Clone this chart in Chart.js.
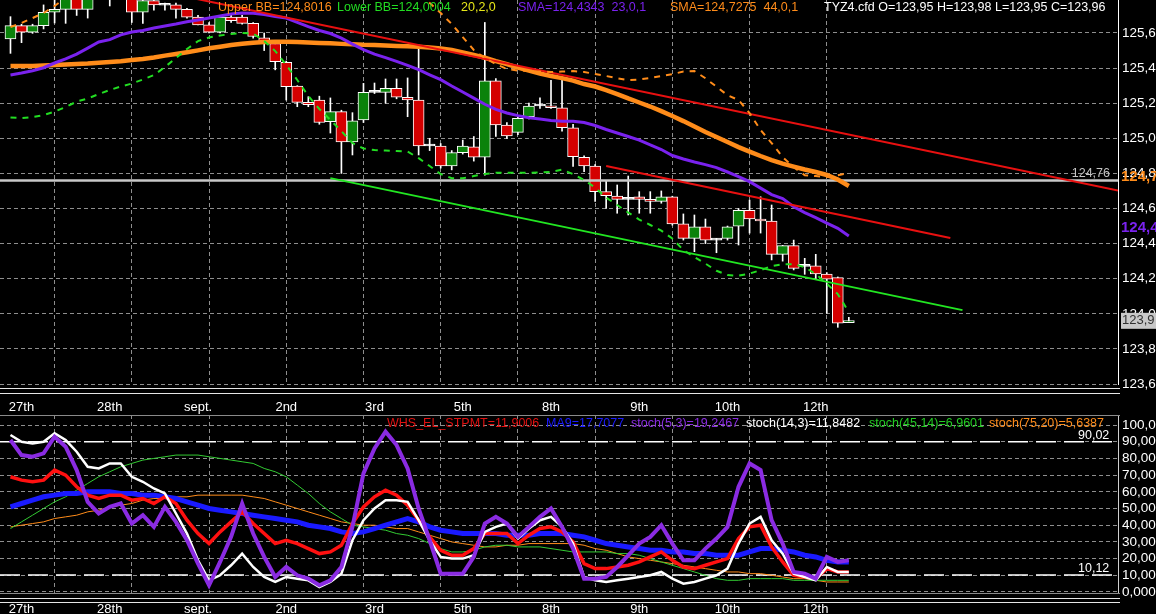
<!DOCTYPE html>
<html>
<head>
<meta charset="utf-8">
<script src="https://cdn.jsdelivr.net/npm/chart.js@4.4.1/dist/chart.umd.min.js"></script>
<style>
html, body { margin: 0; padding: 0; background: #000; overflow: hidden; }
#wrap { position: relative; width: 1156px; height: 614px; overflow: hidden; background: #000; }
canvas { position: absolute; left: 0; }
#main { top: 0; }
#osc { top: 392px; }
.t { position: absolute; font: 12.5px "Liberation Sans", Arial, sans-serif; line-height: 14px; white-space: nowrap; }
.hl { position: absolute; left: 0; width: 1120px; height: 1px; background: #e6e6e6; }
</style>
</head>
<body>
<div id="wrap">
  <canvas id="main" width="1156" height="392"></canvas>
  <canvas id="osc" width="1156" height="232"></canvas>

  <div class="hl" style="top:388px"></div>
  <div class="hl" style="top:393px"></div>
  <div class="hl" style="top:415px;background:#8a8a8a"></div>
  <div class="hl" style="top:593px;background:#8a8a8a"></div>
  <div class="hl" style="top:598px"></div>
  <div class="hl" style="top:602px"></div>

  <span class="t" style="left:218px;top:0;color:#ff8c1a">Upper BB=124,8016</span>
  <span class="t" style="left:337px;top:0;color:#22dd22">Lower BB=124,0004</span>
  <span class="t" style="left:461px;top:0;color:#e6e619">20,2,0</span>
  <span class="t" style="left:518px;top:0;color:#7a22ee">SMA=124,4343&nbsp; 23,0,1</span>
  <span class="t" style="left:670px;top:0;color:#ff8c1a">SMA=124,7275&nbsp; 44,0,1</span>
  <span class="t" style="left:824px;top:0;color:#fff">TYZ4.cfd O=123,95 H=123,98 L=123,95 C=123,96</span>

  <span class="t" style="left:387px;top:416px;color:#e01010">WHS_EL_STPMT=11,9006</span>
  <span class="t" style="left:546px;top:416px;color:#1a1aff">MA9=17,7077</span>
  <span class="t" style="left:631px;top:416px;color:#8a2be2">stoch(5,3)=19,2467</span>
  <span class="t" style="left:746px;top:416px;color:#fff">stoch(14,3)=11,8482</span>
  <span class="t" style="left:869px;top:416px;color:#22cc22">stoch(45,14)=6,9601</span>
  <span class="t" style="left:989px;top:416px;color:#ff8c1a">stoch(75,20)=5,6387</span>
  <span class="t" style="left:1078px;top:428px;color:#fff">90,02</span>
  <span class="t" style="left:1078px;top:561px;color:#fff">10,12</span>
</div>

<script>
// --- price data (one candle per bar, index 0..76) ---
const opens = [125.566,125.642,125.604,125.642,125.718,125.735,125.800,125.735,125.820,125.830,
  125.850,125.810,125.718,125.784,125.760,125.760,125.735,125.690,125.646,125.604,
  125.690,125.690,125.655,125.573,125.540,125.433,125.298,125.205,125.218,125.095,
  125.152,124.980,125.104,125.262,125.262,125.285,125.234,125.218,124.956,124.956,
  124.842,124.918,124.952,124.892,125.327,125.076,125.034,125.123,125.184,125.184,
  125.174,125.060,124.892,124.842,124.696,124.671,124.652,124.667,124.652,124.641,
  124.667,124.512,124.430,124.496,124.420,124.430,124.500,124.590,124.540,124.529,
  124.339,124.388,124.274,124.274,124.227,124.206,123.950];
const highs = [125.693,125.650,125.650,125.760,125.820,125.850,125.840,125.830,125.880,125.860,
  125.900,125.840,125.800,125.800,125.770,125.770,125.740,125.700,125.660,125.700,
  125.700,125.700,125.660,125.600,125.550,125.440,125.300,125.237,125.240,125.230,
  125.160,125.146,125.313,125.315,125.338,125.338,125.344,125.532,125.000,124.970,
  124.930,124.990,125.010,125.660,125.340,125.090,125.120,125.200,125.230,125.330,
  125.340,125.080,124.900,124.850,124.760,124.734,124.785,124.696,124.696,124.700,
  124.670,124.569,124.563,124.540,124.430,124.500,124.600,124.648,124.667,124.620,
  124.390,124.420,124.316,124.339,124.235,124.210,123.980];
const lows = [125.484,125.545,125.598,125.623,125.657,125.655,125.700,125.685,125.790,125.754,
  125.800,125.660,125.655,125.730,125.730,125.684,125.685,125.646,125.600,125.600,
  125.660,125.650,125.570,125.500,125.390,125.218,125.180,125.180,125.080,125.030,
  124.800,124.905,125.090,125.255,125.200,125.225,125.123,124.905,124.930,124.830,
  124.820,124.910,124.870,124.790,125.010,125.000,125.020,125.110,125.170,125.170,
  125.040,124.840,124.810,124.640,124.600,124.573,124.563,124.573,124.573,124.630,
  124.505,124.420,124.354,124.400,124.348,124.420,124.392,124.460,124.460,124.307,
  124.300,124.250,124.225,124.200,124.003,123.923,123.950];
const closes = [125.642,125.604,125.642,125.718,125.735,125.800,125.735,125.800,125.850,125.800,
  125.870,125.718,125.784,125.760,125.758,125.735,125.690,125.646,125.604,125.690,
  125.670,125.655,125.580,125.540,125.436,125.294,125.205,125.192,125.090,125.152,
  124.980,125.100,125.262,125.262,125.285,125.234,125.218,124.956,124.956,124.842,
  124.918,124.956,124.892,125.327,125.076,125.013,125.114,125.184,125.184,125.174,
  125.060,124.895,124.842,124.696,124.673,124.652,124.652,124.652,124.641,124.667,
  124.512,124.430,124.496,124.420,124.424,124.496,124.590,124.540,124.529,124.339,
  124.388,124.259,124.270,124.227,124.197,123.946,123.960];

const sma23 = [125.361,125.372,125.385,125.402,125.429,125.452,125.480,125.514,125.549,125.562,
  125.589,125.606,125.614,125.628,125.640,125.651,125.664,125.674,125.685,125.697,
  125.708,125.714,125.712,125.705,125.694,125.685,125.660,125.636,125.614,125.597,
  125.571,125.537,125.505,125.480,125.460,125.438,125.416,125.391,125.362,125.334,
  125.298,125.264,125.229,125.194,125.165,125.144,125.129,125.117,125.110,125.102,
  125.097,125.097,125.090,125.073,125.050,125.030,125.010,124.990,124.962,124.936,
  124.902,124.882,124.865,124.850,124.833,124.808,124.782,124.753,124.716,124.679,
  124.657,124.610,124.577,124.548,124.517,124.487,124.443];
const sma44 = [125.412,125.412,125.412,125.415,125.418,125.420,125.423,125.426,125.431,125.435,
  125.439,125.446,125.452,125.460,125.471,125.480,125.490,125.501,125.513,125.522,
  125.532,125.539,125.545,125.549,125.550,125.550,125.549,125.546,125.543,125.541,
  125.538,125.536,125.533,125.532,125.529,125.526,125.524,125.522,125.517,125.512,
  125.503,125.489,125.475,125.459,125.440,125.423,125.403,125.386,125.369,125.355,
  125.343,125.329,125.309,125.295,125.275,125.252,125.227,125.204,125.181,125.155,
  125.127,125.098,125.067,125.036,125.007,124.979,124.950,124.924,124.899,124.876,
  124.856,124.839,124.822,124.808,124.791,124.765,124.728];
const upperBB = [125.634,125.657,125.685,125.714,125.754,125.800,125.840,125.880,125.920,125.950,
  125.980,126.000,126.010,126.020,126.020,126.020,126.010,126.000,125.990,125.980,
  125.970,125.960,125.960,125.970,125.980,126.000,126.020,126.030,126.040,126.050,
  126.060,126.060,126.050,126.030,126.000,125.960,125.910,125.850,125.771,125.714,
  125.651,125.577,125.503,125.457,125.423,125.395,125.386,125.383,125.380,125.378,
  125.380,125.383,125.378,125.366,125.355,125.342,125.332,125.335,125.343,125.355,
  125.366,125.380,125.383,125.342,125.294,125.246,125.218,125.144,125.047,124.973,
  124.893,124.836,124.790,124.785,124.779,124.790,124.802];
const lowerBB = [125.118,125.115,125.121,125.132,125.152,125.178,125.209,125.227,125.252,125.275,
  125.295,125.312,125.335,125.360,125.406,125.457,125.509,125.554,125.574,125.586,
  125.594,125.600,125.597,125.554,125.497,125.418,125.332,125.241,125.167,125.104,
  125.041,124.973,124.942,124.933,124.930,124.927,124.924,124.887,124.842,124.796,
  124.773,124.772,124.785,124.796,124.804,124.804,124.804,124.804,124.805,124.808,
  124.822,124.796,124.762,124.719,124.662,124.620,124.577,124.537,124.506,124.474,
  124.429,124.363,124.323,124.286,124.245,124.221,124.217,124.229,124.249,124.272,
  124.283,124.283,124.266,124.226,124.172,124.112,124.010];

// hand-drawn trend lines: [bar index, price]
const redTrendA = [[10, 125.884], [100.4, 124.702]];
const redTrendB = [[54.0, 124.842], [85.2, 124.432]];
const greenTrend = [[29.0, 124.773], [86.3, 124.021]];
const levelLine = 124.76;
const tagValues = [124.7275, 124.4343, 123.96];

// --- oscillator panel ---
const whsStpmt = [69,67,66,67,73,70,63,58,56,58, 58,55,56,53,57,53,43,35,29,36,
  42,48,41,35,29,31,29,26,23,24, 28,41,51,57,61,58,52,43,33,25,
  22,22,26,35,35,35,29,34,38,39, 36,30,17,14,14,15,16,18,21,24,
  19,15,14,16,18,20,32,39,40,27, 18,10,9,8,14,12,12];
const ma9 = [51,53,55,57,58,59,59,60,60,60, 59,59,58,58,57,56,54,52,50,49,
  48,47,46,45,44,43,42,40,39,38, 36,35,36,38,40,42,44,42,39,37,
  36,35,35,35,35,34,34,34,35,35, 35,34,33,31,29,28,27,26,25,25,
  24,24,23,23,22,22,22,24,26,26, 25,24,22,21,19,18,18];
const stoch5 = [91,82,81,83,93,87,73,54,47,51, 53,41,46,39,51,42,31,17,4,18,
  33,53,35,21,9,15,10,8,4,7, 15,39,71,86,96,88,74,50,31,11,
  11,11,21,41,45,41,33,39,45,50, 39,26,8,8,9,15,22,29,33,40,
  29,19,19,26,32,39,63,77,73,43, 29,12,11,8,21,18,19];
const stoch14 = [94,90,89,90,95,91,84,75,74,77, 77,69,66,62,59,47,35,19,7,10,
  16,23,15,9,6,9,8,7,3,6, 11,31,43,50,55,55,54,43,31,21,
  20,20,22,36,39,41,32,38,43,45, 39,29,9,7,6,7,8,9,10,12,
  8,5,6,8,10,14,29,41,45,31, 23,11,9,7,15,12,12];
const stoch45 = [38,42,46,50,54,57,61,65,69,72, 75,77,79,80,81,82,82,82,81,80,
  79,78,77,74,72,69,64,59,53,48, 44,40,39,38,37,35,34,32,29,26,
  24,24,25,27,28,28,27,27,27,26, 25,24,24,24,24,23,23,22,20,18,
  16,14,12,10,8,7,7,8,8,8, 8,7,7,7,7,7,7];
const stoch75 = [39,40,41,42,44,45,46,48,49,51, 52,53,55,56,56,57,57,58,58,58,
  58,58,57,56,54,52,50,48,46,44, 42,41,40,40,39,38,38,36,34,32,
  30,29,28,27,27,28,28,29,29,29, 29,29,28,26,25,23,21,20,19,18,
  17,16,15,14,13,12,12,11,11,10, 9,8,8,7,6,6,6];
const bandHigh = 90.02;
const bandLow = 10.12;

// --- axes ---
const priceTicks = [123.6, 123.8, 124.0, 124.2, 124.4, 124.6, 124.8, 125.0, 125.2, 125.4, 125.6];
const oscTicks = [0, 10, 20, 30, 40, 50, 60, 70, 80, 90, 100];
const gridTicks = [4, 11, 18, 25, 32, 39, 46, 53, 60, 67, 74];
const dayTicks = [1, 9, 17, 25, 33, 41, 49, 57, 65, 73];
const dayLabels = ['27th', '28th', 'sept.', '2nd', '3rd', '5th', '8th', '9th', '10th', '12th'];

const xMin = -0.95, xMax = 100.4;
const FONT = '"Liberation Sans", Arial, sans-serif';
Chart.defaults.font.family = FONT;
const GRID = '#8e8e8e';

const pts = arr => arr.map((v, i) => ({x: i, y: v}));
const seg = arr => arr.map(p => ({x: p[0], y: p[1]}));
const cut1 = v => (Math.floor(v * 10 + 1e-6) / 10).toFixed(1).replace('.', ',');
// keep the plot area flush with the canvas edges
const noPad = s => { s.paddingTop = 0; s.paddingBottom = 0; s.paddingLeft = 0; s.paddingRight = 0; };

const bodyColors = opens.map((o, i) => closes[i] > o + 0.004 ? '#0a820a' : (closes[i] < o - 0.004 ? '#d40000' : '#ffffff'));

const tagPlugin = {
  id: 'tags',
  afterDraw(chart) {
    const {ctx, chartArea, scales: {y}} = chart;
    ctx.save();
    ctx.font = '12.5px ' + FONT;
    ctx.fillStyle = '#c4c4c4';
    ctx.textAlign = 'right';
    ctx.textBaseline = 'bottom';
    ctx.fillText(levelLine.toFixed(2).replace('.', ','), chartArea.right - 8, y.getPixelForValue(levelLine) - 1);

    ctx.textAlign = 'left';
    ctx.font = 'bold 15px ' + FONT;
    ctx.fillStyle = '#ff8c1a';
    ctx.fillText(cut1(tagValues[0]), chartArea.right + 3, y.getPixelForValue(tagValues[0]) - 2);
    ctx.fillStyle = '#7a22ee';
    ctx.fillText(cut1(tagValues[1]), chartArea.right + 3, y.getPixelForValue(tagValues[1]) - 2);

    const py = y.getPixelForValue(tagValues[2]);
    ctx.fillStyle = '#c8c8c8';
    ctx.fillRect(chartArea.right + 3, py - 8, 40, 16);
    ctx.fillStyle = '#303030';
    ctx.font = '13px ' + FONT;
    ctx.textBaseline = 'middle';
    ctx.fillText(cut1(tagValues[2]), chartArea.right + 4, py);
    ctx.restore();
  }
};

new Chart(document.getElementById('main'), {
  type: 'bar',
  data: {
    datasets: [
      {type: 'line', data: pts(lowerBB), borderColor: '#22dd22', borderWidth: 2, borderDash: [6, 6], pointRadius: 0, order: 1},
      {type: 'line', data: pts(upperBB), borderColor: '#ff8c1a', borderWidth: 2, borderDash: [6, 6], pointRadius: 0, order: 2},
      {type: 'line', data: seg(redTrendA), borderColor: '#e81010', borderWidth: 2, pointRadius: 0, order: 3},
      {type: 'line', data: seg(redTrendB), borderColor: '#e81010', borderWidth: 2, pointRadius: 0, order: 3},
      {type: 'line', data: seg(greenTrend), borderColor: '#22e622', borderWidth: 2, pointRadius: 0, order: 3},
      {type: 'line', data: pts(sma23), borderColor: '#7a22ee', borderWidth: 3, pointRadius: 0, order: 4},
      {type: 'line', data: pts(sma44), borderColor: '#ff8c1a', borderWidth: 4.5, pointRadius: 0, order: 5},
      {type: 'line', data: [{x: xMin, y: levelLine}, {x: xMax, y: levelLine}], borderColor: '#c8c8c8', borderWidth: 2.5, pointRadius: 0, order: 6},
      {data: opens.map((o, i) => ({x: i, y: [o, closes[i]]})), backgroundColor: bodyColors,
       borderColor: '#ffffff', borderWidth: 1, borderSkipped: false, barThickness: 11, minBarLength: 2, grouped: false, order: 8},
      {data: opens.map((o, i) => ({x: i, y: [lows[i], highs[i]]})), backgroundColor: '#ffffff',
       borderWidth: 0, barThickness: 1, grouped: false, order: 9}
    ]
  },
  options: {
    responsive: false,
    animation: false,
    layout: {padding: 0, autoPadding: false},
    plugins: {legend: {display: false}, tooltip: {enabled: false}},
    scales: {
      x: {
        type: 'linear', min: xMin, max: xMax, offset: false,
        afterBuildTicks: s => { s.ticks = gridTicks.map(v => ({value: v})); },
        afterFit: s => { s.height = 8; noPad(s); },
        ticks: {display: false},
        grid: {color: GRID, drawTicks: false, offset: false},
        border: {display: false, dash: [4, 3]}
      },
      y: {
        position: 'right', min: 123.6, max: 125.788,
        afterBuildTicks: s => { s.ticks = priceTicks.map(v => ({value: v})); },
        afterFit: s => { s.width = 38; noPad(s); },
        ticks: {color: '#ffffff', font: {size: 13.5}, padding: 4, autoSkip: false,
                callback: v => v.toFixed(1).replace('.', ',')},
        grid: {color: GRID, drawTicks: false},
        border: {display: true, color: '#ffffff', width: 1, dash: [4, 3]}
      }
    }
  },
  plugins: [tagPlugin]
});

const dayAxis = (pos, h, pad) => ({
  type: 'linear', position: pos, min: xMin, max: xMax, offset: false,
  afterBuildTicks: s => { s.ticks = dayTicks.map(v => ({value: v})); },
  afterFit: s => { s.height = h; noPad(s); },
  ticks: {color: '#ffffff', font: {size: 13}, padding: pad, autoSkip: false, maxRotation: 0,
          callback: v => dayLabels[dayTicks.indexOf(v)]},
  grid: {display: false, drawTicks: false},
  border: {display: false}
});

new Chart(document.getElementById('osc'), {
  type: 'line',
  data: {
    datasets: [
      {data: pts(stoch5), borderColor: '#8a2be2', borderWidth: 4, pointRadius: 0, order: 1},
      {data: pts(stoch14), borderColor: '#ffffff', borderWidth: 2.5, pointRadius: 0, order: 2},
      {data: pts(whsStpmt), borderColor: '#ff1010', borderWidth: 3.5, pointRadius: 0, order: 3},
      {data: pts(ma9), borderColor: '#1a1aff', borderWidth: 5, pointRadius: 0, order: 4},
      {data: pts(stoch45), borderColor: '#33cc33', borderWidth: 1, pointRadius: 0, order: 5},
      {data: pts(stoch75), borderColor: '#ff8c1a', borderWidth: 1, pointRadius: 0, order: 6},
      {data: [{x: xMin, y: bandHigh}, {x: xMax, y: bandHigh}], borderColor: '#ffffff', borderWidth: 1.5, borderDash: [20, 8], pointRadius: 0, order: 7},
      {data: [{x: xMin, y: bandLow}, {x: xMax, y: bandLow}], borderColor: '#ffffff', borderWidth: 1.5, borderDash: [20, 8], pointRadius: 0, order: 7}
    ]
  },
  options: {
    responsive: false,
    animation: false,
    layout: {padding: 0, autoPadding: false},
    plugins: {legend: {display: false}, tooltip: {enabled: false}},
    scales: {
      x: {
        type: 'linear', min: xMin, max: xMax, offset: false,
        afterBuildTicks: s => { s.ticks = gridTicks.map(v => ({value: v})); },
        afterFit: s => { s.height = 0; noPad(s); },
        ticks: {display: false},
        grid: {color: GRID, drawTicks: false},
        border: {display: false, dash: [4, 3]}
      },
      xTop: dayAxis('top', 23, 0),
      xBot: dayAxis('bottom', 31, 9),
      y: {
        position: 'right', min: -0.6, max: 106,
        afterBuildTicks: s => { s.ticks = oscTicks.map(v => ({value: v})); },
        afterFit: s => { s.width = 38; noPad(s); },
        ticks: {color: '#ffffff', font: {size: 13.5}, padding: 4, autoSkip: false,
                callback: v => v.toPrecision(4).replace('.', ',')},
        grid: {color: GRID, drawTicks: false},
        border: {display: true, color: '#d0d0d0', width: 1, dash: [4, 3]}
      }
    }
  }
});
</script>
</body>
</html>
